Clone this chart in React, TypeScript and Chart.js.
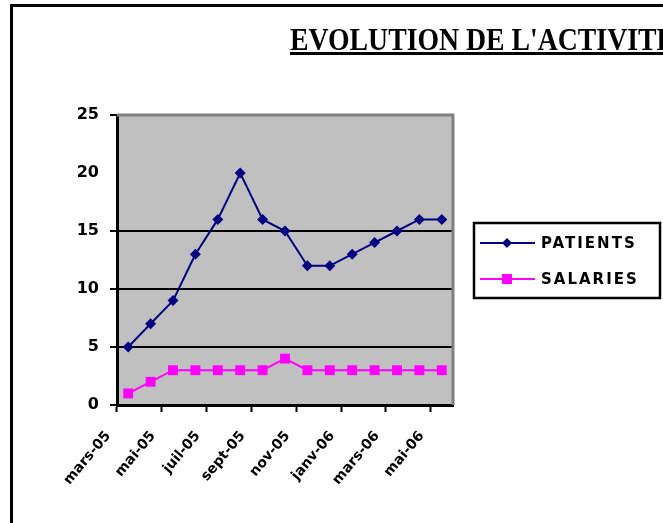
import React, { useEffect, useRef } from "react";
import { Chart, registerables } from "chart.js";

Chart.register(...registerables);

const months = [
  "mars-05", "avr-05", "mai-05", "juin-05", "juil-05", "août-05", "sept-05", "oct-05",
  "nov-05", "déc-05", "janv-06", "févr-06", "mars-06", "avr-06", "mai-06",
];
const patients = [5, 7, 9, 13, 16, 20, 16, 15, 12, 12, 13, 14, 15, 16, 16];
const salaries = [1, 2, 3, 3, 3, 3, 3, 4, 3, 3, 3, 3, 3, 3, 3];
const yTicks = [0, 5, 10, 15, 20, 25];
const titleText = "EVOLUTION DE L'ACTIVITE";
const seriesNames = ["PATIENTS", "SALARIES"];

const NAVY = "#000080";
const MAGENTA = "#FF00FF";

const W = 663;
const H = 523;

const decorPlugin = {
  id: "decor",
  beforeDraw(chart: any) {
    const { ctx, chartArea: a } = chart;
    ctx.save();
    ctx.fillStyle = "#fff";
    ctx.fillRect(0, 0, W, H);
    ctx.fillStyle = "#C0C0C0";
    ctx.fillRect(a.left, a.top, a.right - a.left, a.bottom - a.top);
    ctx.restore();
  },
  beforeDatasetsDraw(chart: any) {
    const { ctx, chartArea: a } = chart;
    ctx.save();
    ctx.strokeStyle = "#808080";
    ctx.lineWidth = 3;
    ctx.beginPath();
    ctx.moveTo(a.left, a.top);
    ctx.lineTo(a.right, a.top);
    ctx.lineTo(a.right, a.bottom);
    ctx.stroke();
    ctx.restore();
  },
  afterDraw(chart: any) {
    const { ctx } = chart;
    ctx.save();
    // outer frame
    ctx.strokeStyle = "#000";
    ctx.lineWidth = 3;
    ctx.strokeRect(11.5, 5.5, 800, 700);

    // title
    ctx.font = 'bold 31px "Liberation Serif"';
    ctx.textBaseline = "alphabetic";
    ctx.textAlign = "left";
    ctx.fillStyle = "#000";
    const tw = ctx.measureText(titleText).width;
    const target = 385;
    ctx.save();
    ctx.translate(290, 50);
    ctx.scale(target / tw, 1);
    ctx.fillText(titleText, 0, 0);
    ctx.restore();
    ctx.fillRect(290, 52, target, 3);

    // legend
    ctx.lineWidth = 2.5;
    ctx.strokeRect(474, 223, 186, 75);
    const items = [
      { y: 243, color: NAVY, style: "diamond" },
      { y: 279, color: MAGENTA, style: "square" },
    ];
    items.forEach((it, i) => {
      ctx.strokeStyle = it.color;
      ctx.lineWidth = 2;
      ctx.beginPath();
      ctx.moveTo(480, it.y);
      ctx.lineTo(535, it.y);
      ctx.stroke();
      ctx.fillStyle = it.color;
      if (it.style === "diamond") {
        ctx.beginPath();
        ctx.moveTo(507, it.y - 5);
        ctx.lineTo(512, it.y);
        ctx.lineTo(507, it.y + 5);
        ctx.lineTo(502, it.y);
        ctx.closePath();
        ctx.fill();
      } else {
        ctx.fillRect(502, it.y - 5, 10, 10);
      }
      ctx.fillStyle = "#000";
      ctx.font = 'bold 15px "DejaVu Sans"';
      ctx.textBaseline = "middle";
      (ctx as any).letterSpacing = "2px";
      ctx.fillText(seriesNames[i], 541, it.y + 1);
      (ctx as any).letterSpacing = "0px";
    });
    ctx.restore();
  },
};

export default function App() {
  const ref = useRef<HTMLCanvasElement>(null);
  useEffect(() => {
    if (!ref.current) return;
    const chart = new Chart(ref.current, {
      type: "line",
      data: {
        labels: months,
        datasets: [
          {
            label: seriesNames[0],
            data: patients,
            borderColor: NAVY,
            backgroundColor: NAVY,
            borderWidth: 2,
            pointStyle: "rectRot",
            pointRadius: 5.5,
            pointBorderWidth: 0,
            tension: 0,
          },
          {
            label: seriesNames[1],
            data: salaries,
            borderColor: MAGENTA,
            backgroundColor: MAGENTA,
            borderWidth: 2,
            pointStyle: "rect",
            pointRadius: 7,
            pointBorderWidth: 0,
            tension: 0,
          },
        ],
      },
      options: {
        responsive: false,
        animation: false,
        devicePixelRatio: 1,
        layout: { padding: { left: 0, top: 115, right: W - 453, bottom: 0 } },
        plugins: {
          legend: { display: false },
          title: { display: false },
          tooltip: { enabled: false },
        },
        scales: {
          x: {
            type: "category",
            offset: true,
            afterFit: (s: any) => {
              s.height = H - 405;
            },
            border: { color: "#000", width: 3 },
            grid: {
              offset: true,
              drawOnChartArea: false,
              tickLength: 7,
              tickWidth: 2,
              tickColor: (c: any) => (c.index % 2 === 0 ? "#000" : "rgba(0,0,0,0)"),
            },
            ticks: {
              autoSkip: false,
              maxRotation: 50,
              minRotation: 50,
              labelOffset: -20,
              padding: 16,
              color: "#000",
              font: { family: "DejaVu Sans", size: 14, weight: "bold" },
              callback: (_v: any, i: number) => (i % 2 === 0 ? months[i] : ""),
            },
          },
          y: {
            min: 0,
            max: 25,
            afterFit: (s: any) => {
              s.width = 117;
            },
            afterBuildTicks: (s: any) => {
              s.ticks = yTicks.map((v) => ({ value: v }));
            },
            border: { color: "#000", width: 3 },
            grid: {
              lineWidth: 2,
              tickLength: 7,
              color: (c: any) => {
                const v = c.tick?.value;
                if (v === 20 || v === 0) return "rgba(0,0,0,0)";
                if (v === 25) return "#808080";
                return "#000";
              },
              tickColor: (c: any) => (c.tick?.value === 20 ? "rgba(0,0,0,0)" : "#000"),
            },
            ticks: {
              padding: 11,
              color: "#000",
              font: { family: "DejaVu Sans", size: 16, weight: "bold" },
            },
          },
        },
      },
      plugins: [decorPlugin],
    });
    return () => chart.destroy();
  }, []);
  return (
    <div style={{ position: "absolute", left: 0, top: 0, width: W, height: H }}>
      <canvas ref={ref} width={W} height={H} style={{ width: W, height: H, display: "block" }} />
    </div>
  );
}
